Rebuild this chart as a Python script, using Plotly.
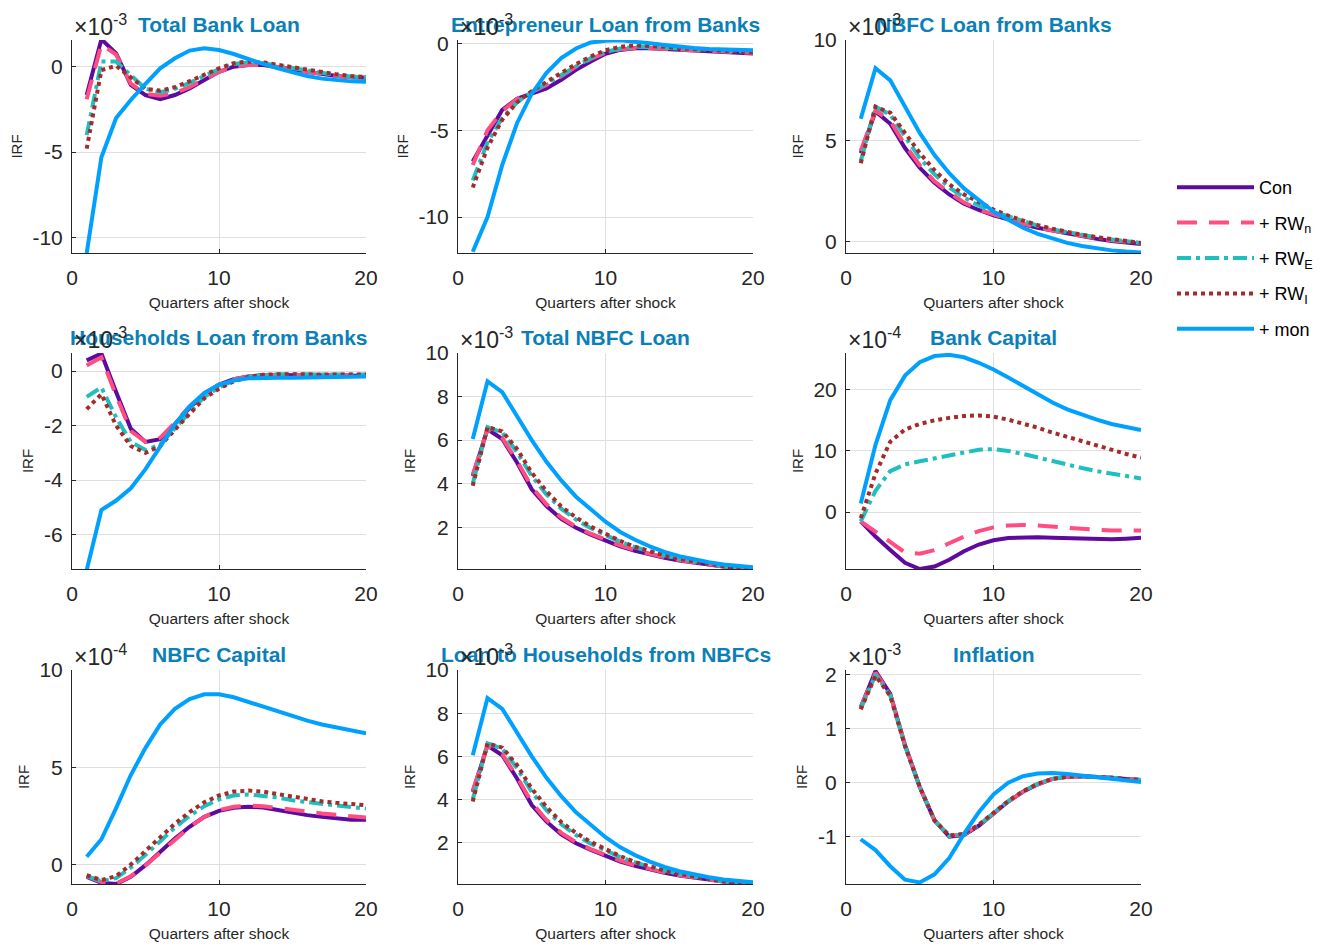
import plotly.graph_objects as go

quarters = list(range(1, 21))

series_names = ["Con", "+ RW<sub>n</sub>", "+ RW<sub>E</sub>", "+ RW<sub>I</sub>", "+ mon"]
series_colors = ["#5E0A9E", "#FF4D82", "#1FBFBF", "#A52A2A", "#00A0FF"]
series_dash = ["solid", "20px,12px", "14px,5px,4px,5px", "4px,4px", "solid"]

panel_titles = ["Total Bank Loan", "Entrepreneur Loan from Banks", "NBFC Loan from Banks",
                "Households Loan from Banks", "Total NBFC Loan", "Bank Capital",
                "NBFC Capital", "Loan to Households from NBFCs", "Inflation"]
panel_exponents = ["-3", "-3", "-3", "-3", "-3", "-4", "-4", "-3", "-3"]
panel_yranges = [[-10.9, 1.56], [-12.07, 0.19], [-0.55, 10.0], [-7.26, 0.66], [0.08, 10.0],
                 [-9.3, 26.0], [-1.0, 10.0], [0.08, 10.0], [-1.88, 2.09]]
panel_yticks = [[-10, -5, 0], [-10, -5, 0], [0, 5, 10], [-6, -4, -2, 0], [2, 4, 6, 8, 10],
                [0, 10, 20], [0, 5, 10], [2, 4, 6, 8, 10], [-1, 0, 1, 2]]
x_ticks = [0, 10, 20]

# Total Bank Loan (x1e-3)
tbl_con = [-1.66, 1.6, 0.78, -1.07, -1.66, -1.9, -1.66, -1.27, -0.78, -0.3, 0.0, 0.1, 0.1, 0.0, -0.15, -0.3, -0.43, -0.55, -0.62, -0.65]
tbl_rwn = [-1.9, 1.3, 0.7, -1.0, -1.6, -1.7, -1.55, -1.2, -0.75, -0.3, 0.0, 0.1, 0.1, 0.0, -0.15, -0.3, -0.43, -0.55, -0.62, -0.65]
tbl_rwe = [-4.0, 0.3, 0.3, -0.5, -1.3, -1.5, -1.3, -0.95, -0.55, -0.15, 0.15, 0.25, 0.2, 0.05, -0.1, -0.25, -0.4, -0.5, -0.58, -0.62]
tbl_rwi = [-4.8, -0.2, 0.05, -0.6, -1.3, -1.4, -1.2, -0.85, -0.45, -0.1, 0.2, 0.3, 0.25, 0.1, -0.05, -0.2, -0.35, -0.45, -0.55, -0.6]
tbl_mon = [-10.9, -5.3, -3.0, -1.95, -1.0, -0.1, 0.49, 0.94, 1.07, 0.97, 0.74, 0.43, 0.16, -0.1, -0.35, -0.55, -0.7, -0.8, -0.86, -0.88]

# Entrepreneur Loan from Banks (x1e-3)
elb_con = [-6.8, -5.27, -3.83, -3.2, -2.87, -2.6, -2.1, -1.53, -1.05, -0.6, -0.38, -0.29, -0.29, -0.33, -0.38, -0.43, -0.5, -0.54, -0.57, -0.58]
elb_rwn = [-7.0, -5.0, -3.9, -3.2, -2.8, -2.4, -1.9, -1.35, -0.9, -0.55, -0.35, -0.28, -0.28, -0.32, -0.37, -0.42, -0.47, -0.51, -0.54, -0.55]
elb_rwe = [-7.9, -5.7, -4.3, -3.4, -2.8, -2.3, -1.8, -1.3, -0.85, -0.5, -0.3, -0.2, -0.2, -0.25, -0.3, -0.35, -0.4, -0.45, -0.48, -0.5]
elb_rwi = [-8.3, -6.0, -4.4, -3.4, -2.75, -2.2, -1.7, -1.2, -0.75, -0.4, -0.2, -0.12, -0.15, -0.2, -0.28, -0.34, -0.4, -0.45, -0.48, -0.5]
elb_mon = [-12.0, -10.0, -7.0, -4.6, -2.9, -1.7, -0.85, -0.3, 0.05, 0.15, 0.17, 0.1, 0.0, -0.1, -0.2, -0.27, -0.33, -0.37, -0.4, -0.4]

# NBFC Loan from Banks (x1e-3)
nlb_con = [4.4, 6.46, 5.85, 4.65, 3.67, 2.93, 2.35, 1.89, 1.58, 1.32, 1.12, 0.87, 0.7, 0.55, 0.4, 0.28, 0.15, 0.05, -0.02, -0.1]
nlb_rwn = [4.5, 6.5, 6.0, 4.8, 3.8, 3.0, 2.45, 1.95, 1.6, 1.35, 1.15, 0.9, 0.72, 0.56, 0.42, 0.3, 0.18, 0.08, 0.0, -0.08]
nlb_rwe = [4.0, 6.7, 6.3, 5.2, 4.15, 3.35, 2.7, 2.2, 1.8, 1.5, 1.25, 1.0, 0.8, 0.62, 0.47, 0.33, 0.22, 0.12, 0.03, -0.05]
nlb_rwi = [3.9, 6.7, 6.4, 5.4, 4.4, 3.55, 2.85, 2.35, 1.95, 1.6, 1.3, 1.05, 0.83, 0.65, 0.48, 0.35, 0.23, 0.12, 0.03, -0.05]
nlb_mon = [6.1, 8.6, 8.0, 6.7, 5.4, 4.3, 3.4, 2.65, 2.05, 1.5, 1.1, 0.7, 0.4, 0.15, -0.05, -0.2, -0.32, -0.42, -0.48, -0.52]

# Households Loan from Banks (x1e-3)
hlb_con = [0.39, 0.64, -0.77, -2.12, -2.6, -2.5, -1.95, -1.35, -0.85, -0.5, -0.3, -0.2, -0.15, -0.15, -0.15, -0.15, -0.15, -0.16, -0.16, -0.17]
hlb_rwn = [0.2, 0.5, -0.9, -2.2, -2.6, -2.45, -1.9, -1.3, -0.85, -0.5, -0.3, -0.2, -0.15, -0.15, -0.15, -0.15, -0.15, -0.15, -0.15, -0.15]
hlb_rwe = [-0.95, -0.6, -1.7, -2.6, -2.9, -2.7, -2.1, -1.5, -0.95, -0.6, -0.35, -0.22, -0.15, -0.12, -0.12, -0.12, -0.12, -0.13, -0.13, -0.13]
hlb_rwi = [-1.4, -0.85, -2.0, -2.75, -3.0, -2.75, -2.15, -1.55, -1.0, -0.65, -0.38, -0.22, -0.14, -0.12, -0.12, -0.12, -0.12, -0.13, -0.13, -0.13]
hlb_mon = [-7.3, -5.1, -4.75, -4.3, -3.6, -2.75, -1.95, -1.3, -0.8, -0.5, -0.35, -0.27, -0.25, -0.25, -0.25, -0.24, -0.23, -0.22, -0.21, -0.2]

# Total NBFC Loan (x1e-3)
tnl_con = [4.35, 6.5, 6.05, 4.97, 3.74, 2.97, 2.38, 1.97, 1.66, 1.4, 1.12, 0.92, 0.75, 0.6, 0.47, 0.37, 0.27, 0.18, 0.1, 0.05]
tnl_rwn = [4.4, 6.5, 6.1, 5.05, 3.85, 3.05, 2.45, 2.02, 1.7, 1.43, 1.16, 0.95, 0.77, 0.62, 0.49, 0.38, 0.28, 0.19, 0.11, 0.05]
tnl_rwe = [4.0, 6.6, 6.35, 5.45, 4.35, 3.5, 2.85, 2.35, 1.95, 1.62, 1.33, 1.08, 0.87, 0.7, 0.55, 0.42, 0.31, 0.21, 0.13, 0.07]
tnl_rwi = [3.9, 6.6, 6.4, 5.6, 4.5, 3.65, 2.95, 2.45, 2.03, 1.68, 1.37, 1.1, 0.88, 0.7, 0.55, 0.42, 0.31, 0.21, 0.13, 0.07]
tnl_mon = [6.05, 8.7, 8.2, 7.1, 6.0, 5.0, 4.15, 3.4, 2.8, 2.25, 1.78, 1.42, 1.12, 0.87, 0.67, 0.51, 0.39, 0.29, 0.22, 0.16]

# Bank Capital (x1e-4)
bcap_con = [-1.5, -4.0, -6.2, -8.3, -9.3, -8.9, -7.8, -6.4, -5.3, -4.6, -4.25, -4.1, -4.1, -4.2, -4.3, -4.4, -4.45, -4.45, -4.35, -4.2]
bcap_rwn = [-1.5, -3.2, -5.0, -6.6, -6.8, -6.2, -5.1, -4.0, -3.1, -2.5, -2.2, -2.1, -2.2, -2.4, -2.6, -2.8, -2.9, -3.0, -3.0, -3.0]
bcap_rwe = [-1.5, 3.5, 6.7, 7.8, 8.3, 8.8, 9.3, 9.8, 10.2, 10.3, 10.0, 9.5, 8.9, 8.3, 7.7, 7.2, 6.7, 6.3, 5.9, 5.5]
bcap_rwi = [-1.0, 6.3, 11.5, 13.5, 14.4, 15.0, 15.4, 15.7, 15.8, 15.6, 15.1, 14.5, 13.8, 13.0, 12.3, 11.5, 10.8, 10.1, 9.5, 8.9]
bcap_mon = [1.4, 11.0, 18.3, 22.3, 24.5, 25.5, 25.7, 25.3, 24.4, 23.3, 22.0, 20.6, 19.2, 17.9, 16.8, 15.9, 15.1, 14.4, 13.9, 13.4]

# NBFC Capital (x1e-4)
ncap_con = [-0.63, -0.94, -1.0, -0.63, -0.03, 0.65, 1.34, 1.94, 2.45, 2.76, 2.92, 2.97, 2.93, 2.8, 2.66, 2.54, 2.45, 2.37, 2.3, 2.3]
ncap_rwn = [-0.6, -0.9, -0.98, -0.6, -0.05, 0.62, 1.3, 1.92, 2.45, 2.8, 2.97, 3.03, 3.0, 2.92, 2.82, 2.72, 2.62, 2.55, 2.48, 2.42]
ncap_rwe = [-0.6, -0.85, -0.7, -0.15, 0.5, 1.2, 1.9, 2.5, 3.0, 3.35, 3.55, 3.6, 3.55, 3.45, 3.3, 3.2, 3.1, 3.02, 2.95, 2.88]
ncap_rwi = [-0.55, -0.8, -0.6, 0.0, 0.7, 1.4, 2.1, 2.7, 3.2, 3.55, 3.75, 3.8, 3.75, 3.62, 3.48, 3.35, 3.25, 3.17, 3.1, 3.05]
ncap_mon = [0.4, 1.3, 2.9, 4.6, 6.0, 7.2, 8.0, 8.5, 8.75, 8.75, 8.6, 8.35, 8.1, 7.85, 7.6, 7.4, 7.2, 7.05, 6.9, 6.75]

# Loan to Households from NBFCs (x1e-3)
lhn_con = [4.35, 6.5, 6.05, 4.97, 3.74, 2.97, 2.38, 1.97, 1.66, 1.4, 1.12, 0.92, 0.75, 0.6, 0.47, 0.37, 0.27, 0.18, 0.1, 0.05]
lhn_rwn = [4.4, 6.5, 6.1, 5.05, 3.85, 3.05, 2.45, 2.02, 1.7, 1.43, 1.16, 0.95, 0.77, 0.62, 0.49, 0.38, 0.28, 0.19, 0.11, 0.05]
lhn_rwe = [4.0, 6.6, 6.35, 5.45, 4.35, 3.5, 2.85, 2.35, 1.95, 1.62, 1.33, 1.08, 0.87, 0.7, 0.55, 0.42, 0.31, 0.21, 0.13, 0.07]
lhn_rwi = [3.9, 6.6, 6.4, 5.6, 4.5, 3.65, 2.95, 2.45, 2.03, 1.68, 1.37, 1.1, 0.88, 0.7, 0.55, 0.42, 0.31, 0.21, 0.13, 0.07]
lhn_mon = [6.05, 8.7, 8.2, 7.1, 6.0, 5.0, 4.15, 3.4, 2.8, 2.25, 1.78, 1.42, 1.12, 0.87, 0.67, 0.51, 0.39, 0.29, 0.22, 0.16]

# Inflation (x1e-3)
inf_con = [1.4, 2.07, 1.65, 0.7, -0.08, -0.7, -1.0, -0.97, -0.8, -0.58, -0.35, -0.17, -0.03, 0.07, 0.11, 0.12, 0.11, 0.09, 0.07, 0.05]
inf_rwn = [1.4, 2.04, 1.64, 0.7, -0.08, -0.7, -0.99, -0.96, -0.79, -0.57, -0.35, -0.17, -0.03, 0.07, 0.11, 0.12, 0.11, 0.09, 0.07, 0.05]
inf_rwe = [1.37, 2.0, 1.62, 0.68, -0.08, -0.7, -0.99, -0.96, -0.79, -0.57, -0.34, -0.16, -0.02, 0.07, 0.11, 0.12, 0.11, 0.09, 0.07, 0.05]
inf_rwi = [1.36, 1.98, 1.61, 0.68, -0.08, -0.7, -0.98, -0.95, -0.78, -0.56, -0.34, -0.16, -0.02, 0.07, 0.11, 0.12, 0.11, 0.09, 0.07, 0.05]
inf_mon = [-1.05, -1.25, -1.55, -1.8, -1.85, -1.7, -1.4, -0.95, -0.55, -0.22, 0.0, 0.12, 0.17, 0.18, 0.16, 0.13, 0.09, 0.06, 0.03, 0.01]

panel_data = [
    [tbl_con, tbl_rwn, tbl_rwe, tbl_rwi, tbl_mon],
    [elb_con, elb_rwn, elb_rwe, elb_rwi, elb_mon],
    [nlb_con, nlb_rwn, nlb_rwe, nlb_rwi, nlb_mon],
    [hlb_con, hlb_rwn, hlb_rwe, hlb_rwi, hlb_mon],
    [tnl_con, tnl_rwn, tnl_rwe, tnl_rwi, tnl_mon],
    [bcap_con, bcap_rwn, bcap_rwe, bcap_rwi, bcap_mon],
    [ncap_con, ncap_rwn, ncap_rwe, ncap_rwi, ncap_mon],
    [lhn_con, lhn_rwn, lhn_rwe, lhn_rwi, lhn_mon],
    [inf_con, inf_rwn, inf_rwe, inf_rwi, inf_mon],
]

W, H = 1339, 946
col_px = [(72, 366), (458, 753), (846, 1141)]
row_px = [(40, 253), (353, 569), (670, 884)]

FONT = "Liberation Sans, Arial, Helvetica, sans-serif"
TXT = "#262626"
TITLE_C = "#0B80B8"

fig = go.Figure()
layout = dict(
    width=W, height=H, margin=dict(l=0, r=0, t=0, b=0),
    paper_bgcolor="white", plot_bgcolor="white",
    font=dict(family=FONT, color=TXT),
    showlegend=True,
    legend=dict(x=1172 / W, y=1 - 258 / H, xanchor="left", yanchor="middle",
                font=dict(size=18, color="black", family=FONT),
                itemwidth=77, tracegroupgap=9, bgcolor="rgba(0,0,0,0)"),
)
annotations = []

for p in range(9):
    r, c = divmod(p, 3)
    idx = p + 1
    xa = "x" if idx == 1 else f"x{idx}"
    ya = "y" if idx == 1 else f"y{idx}"
    for s in range(5):
        fig.add_trace(go.Scatter(
            x=quarters, y=panel_data[p][s], mode="lines", name=series_names[s],
            line=dict(color=series_colors[s], width=4, dash=series_dash[s]),
            xaxis=xa, yaxis=ya, showlegend=(p == 0), legendgroup=f"g{s}",
        ))
    x0, x1 = col_px[c]
    y0, y1 = row_px[r]
    layout[f"xaxis{'' if idx == 1 else idx}"] = dict(
        domain=[x0 / W, x1 / W], anchor=ya, range=[0, 20],
        tickvals=x_ticks, ticktext=[str(v) for v in x_ticks],
        showgrid=True, gridcolor="#DFDFDF", zeroline=False,
        showline=True, linecolor=TXT, linewidth=1,
        ticks="inside", ticklen=4, tickcolor=TXT,
        tickfont=dict(size=21, color=TXT), ticklabelstandoff=6,
        title=dict(text="Quarters after shock", font=dict(size=15.5, color=TXT), standoff=8),
        automargin=False,
    )
    layout[f"yaxis{'' if idx == 1 else idx}"] = dict(
        domain=[1 - y1 / H, 1 - y0 / H], anchor=xa, range=panel_yranges[p],
        tickvals=panel_yticks[p], ticktext=[str(v) for v in panel_yticks[p]],
        showgrid=True, gridcolor="#DFDFDF", zeroline=False,
        showline=True, linecolor=TXT, linewidth=1,
        ticks="inside", ticklen=4, tickcolor=TXT,
        tickfont=dict(size=21, color=TXT), ticklabelstandoff=4,
        title=dict(text="IRF", font=dict(size=15, color=TXT), standoff=6),
        automargin=False,
    )
    annotations.append(dict(
        text=f"<b>{panel_titles[p]}</b>", xref=f"{xa} domain", yref=f"{ya} domain",
        x=0.5, y=1, xanchor="center", yanchor="middle", yshift=16, showarrow=False,
        font=dict(size=21, color=TITLE_C, family=FONT),
    ))
    annotations.append(dict(
        text=f"×10<sup>{panel_exponents[p]}</sup>", xref=f"{xa} domain", yref=f"{ya} domain",
        x=0, y=1, xanchor="left", yanchor="middle", yshift=15, showarrow=False,
        font=dict(size=23, color=TXT, family=FONT),
    ))

layout["annotations"] = annotations
fig.update_layout(**layout)
fig.write_html("out.html")
